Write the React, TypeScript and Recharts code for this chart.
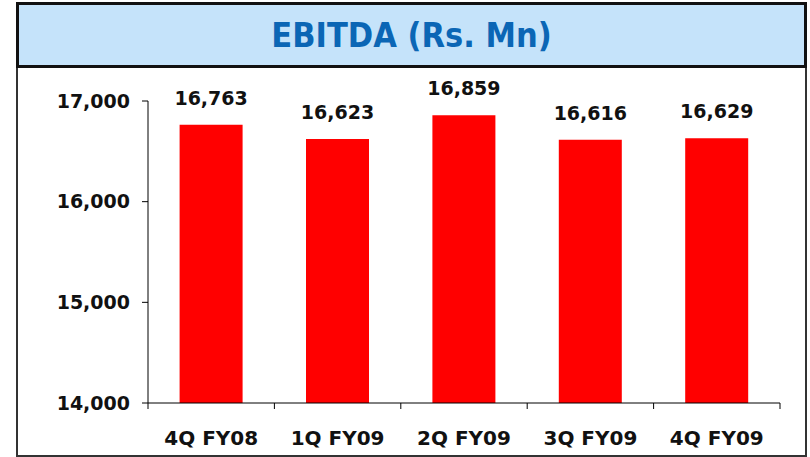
import React from "react";
import { BarChart, Bar, XAxis, YAxis, LabelList } from "recharts";

const categories = ["4Q FY08", "1Q FY09", "2Q FY09", "3Q FY09", "4Q FY09"];
const ebitda = [16763, 16623, 16859, 16616, 16629];
const yTicks = [14000, 15000, 16000, 17000];

const data = categories.map((c, i) => ({ name: c, value: ebitda[i] }));

const FONT = "'DejaVu Sans', Verdana, sans-serif";
const fmt = (v: number) => v.toLocaleString("en-US");

const XTick = (props: any) => {
  const { x, y, payload, index } = props;
  const off = payload && payload.offset ? payload.offset : 0;
  return (
    <g>
      <line x1={x - off} x2={x - off} y1={y} y2={y + 6} stroke="#000" strokeWidth={1} />
      {index === categories.length - 1 && (
        <line x1={x + off} x2={x + off} y1={y} y2={y + 6} stroke="#000" strokeWidth={1} />
      )}
      <text
        x={x}
        y={y + 42}
        textAnchor="middle"
        fontFamily={FONT}
        fontWeight="bold"
        fontSize={20}
        fill="#111"
      >
        {payload.value}
      </text>
    </g>
  );
};

export default function App() {
  return (
    <div style={{ position: "absolute", left: 0, top: 0, width: 810, height: 457, background: "#fff" }}>
      <div
        style={{
          position: "absolute",
          left: 16,
          top: 66,
          width: 791,
          height: 391,
          boxSizing: "border-box",
          border: "2px solid #333",
          background: "#fff",
        }}
      />
      <div
        style={{
          position: "absolute",
          left: 16,
          top: 2,
          width: 791,
          height: 66,
          boxSizing: "border-box",
          border: "3px solid #111",
          background: "#C5E3FA",
          display: "flex",
          alignItems: "center",
          justifyContent: "center",
          fontFamily: "'DejaVu Sans Condensed', 'DejaVu Sans', sans-serif",
          fontWeight: "bold",
          fontSize: 34,
          color: "#0B66B5",
        }}
      >
        EBITDA (Rs. Mn)
      </div>
      <div style={{ position: "absolute", left: 0, top: 0 }}>
        <BarChart
          width={810}
          height={457}
          data={data}
          margin={{ top: 101, right: 30, bottom: 0, left: 68 }}
          barCategoryGap="25%"
        >
          <XAxis
            dataKey="name"
            height={54}
            tickSize={0}
            tickMargin={0}
            tickLine={false}
            axisLine={{ stroke: "#000", strokeWidth: 1 }}
            tick={<XTick />}
            interval={0}
          />
          <YAxis
            width={80}
            domain={[14000, 17000]}
            ticks={yTicks}
            tickFormatter={fmt}
            tickSize={6}
            tickMargin={12}
            axisLine={{ stroke: "#000", strokeWidth: 1 }}
            tickLine={{ stroke: "#000", strokeWidth: 1 }}
            tick={{ fontFamily: FONT, fontWeight: "bold", fontSize: 19, fill: "#111" }}
            allowDataOverflow
          />
          <Bar dataKey="value" fill="#FF0000" isAnimationActive={false}>
            <LabelList
              dataKey="value"
              position="top"
              offset={20}
              formatter={(v: any) => fmt(Number(v))}
              style={{ fontFamily: FONT, fontWeight: "bold", fontSize: 19, fill: "#111" }}
            />
          </Bar>
        </BarChart>
      </div>
    </div>
  );
}
